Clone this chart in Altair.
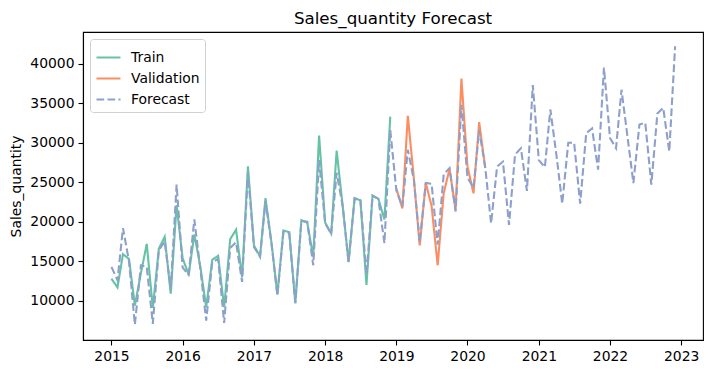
import altair as alt
import pandas as pd

series_names = ["Train", "Validation", "Forecast"]
series_colors = ["#66c2a5", "#fc8d62", "#8da0cb"]

train_start = "2015-01-01"
train_values = [
    12800, 11700, 15900, 15300, 9400, 13500, 17200, 9100, 16600, 18100, 10900, 22100,
    15400, 13300, 18400, 14300, 9200, 15200, 15700, 9200, 17800, 19000, 13000, 27000,
    17000, 15600, 23000, 17300, 10800, 18900, 18700, 9700, 20200, 19900, 15600, 30900,
    19900, 18500, 29000, 22000, 14900, 23000, 22700, 12000, 23300, 22900, 20300, 33300,
]

validation_start = "2019-01-01"
validation_values = [
    24200, 21700, 33400, 25500, 17000, 24900, 22000, 14500, 23600, 26700, 21500, 38100,
    27000, 23600, 32600, 26800,
]

forecast_start = "2015-01-01"
forecast_values = [
    14300, 12600, 19200, 15000, 7000, 14500, 14300, 7100, 16400, 17500, 11500, 24700,
    14200, 13300, 20300, 14000, 7500, 14900, 15300, 7200, 16700, 17400, 12400, 26200,
    16800, 15600, 22600, 17200, 10700, 18700, 18500, 9700, 20100, 20000, 14500, 27800,
    19800, 18500, 26200, 22000, 14900, 22900, 22700, 13300, 23300, 22900, 17300, 31600,
    24000, 21900, 29100, 25300, 17400, 24900, 24800, 17100, 26000, 26800, 21300, 34800,
    25600, 24300, 31600, 26900, 19800, 27000, 27600, 19600, 28500, 29300, 23900, 37300,
    27800, 26900, 34200, 28500, 22300, 30000, 30000, 22300, 31200, 31800, 26600, 39500,
    30600, 29300, 36700, 30700, 24900, 32300, 32500, 24700, 33700, 34400, 28900, 42200,
]

year_ticks = list(range(2015, 2024))
y_ticks = [10000, 15000, 20000, 25000, 30000, 35000, 40000]


def make_frame(name, start, values):
    dates = pd.date_range(start, periods=len(values), freq="MS").strftime("%Y-%m-%dT00:00:00")
    return pd.DataFrame({"date": list(dates), "value": values, "series": name})


df = pd.concat([
    make_frame("Train", train_start, train_values),
    make_frame("Validation", validation_start, validation_values),
    make_frame("Forecast", forecast_start, forecast_values),
], ignore_index=True)

FONT = "DejaVu Sans"

legend = alt.Legend(
    title=None,
    orient="none",
    legendX=7,
    legendY=7,
    symbolType="stroke",
    symbolSize=576,
    symbolStrokeWidth=2.1,
    labelFontSize=13.9,
    labelFont=FONT,
    labelColor="black",
    labelOffset=9,
    fillColor="rgba(255,255,255,0.85)",
    strokeColor="#d0d0d0",
    cornerRadius=3,
    padding=5,
    rowPadding=0,
)

color = alt.Color("series:N", scale=alt.Scale(domain=series_names, range=series_colors), legend=legend)
dash = alt.StrokeDash(
    "series:N",
    scale=alt.Scale(domain=series_names, range=[[1, 0], [1, 0], [7.7, 3.3]]),
    legend=legend,
)

x_enc = alt.X(
    "date:T",
    title=None,
    scale=alt.Scale(domain=[alt.DateTime(year=2014, month=8, date=8), alt.DateTime(year=2023, month=4, date=23)]),
    axis=alt.Axis(values=[alt.DateTime(year=y) for y in year_ticks], format="%Y"),
)
y_enc = alt.Y(
    "value:Q",
    title="Sales_quantity",
    scale=alt.Scale(domain=[5050, 44000], nice=False, zero=False),
    axis=alt.Axis(values=y_ticks, format="d"),
)

layers = []
for name in series_names:
    layers.append(
        alt.Chart(df)
        .transform_filter(alt.datum.series == name)
        .mark_line(strokeWidth=2.1)
        .encode(x=x_enc, y=y_enc, color=color, strokeDash=dash)
    )

chart = (
    alt.layer(*layers)
    .properties(
        width=620,
        height=308,
        background="white",
        padding={"left": 75, "top": 24, "right": 2, "bottom": 26},
        autosize=alt.AutoSizeParams(type="none"),
        title=alt.TitleParams(
            "Sales_quantity Forecast", fontSize=16.7, fontWeight="normal", font=FONT,
            color="black", anchor="middle", offset=4,
        ),
    )
    .configure_view(stroke="black", strokeWidth=1.1)
    .configure_axis(
        grid=False,
        domainColor="black",
        domainWidth=1.1,
        tickColor="black",
        tickWidth=1.1,
        tickSize=5,
        labelPadding=4,
        labelFontSize=13.9,
        labelFont=FONT,
        labelColor="black",
        titleFont=FONT,
        titleFontSize=13.9,
        titleFontWeight="normal",
        titleColor="black",
        titlePadding=6,
    )
)

chart.save("out.html", embed_options={"renderer": "svg", "actions": False})
